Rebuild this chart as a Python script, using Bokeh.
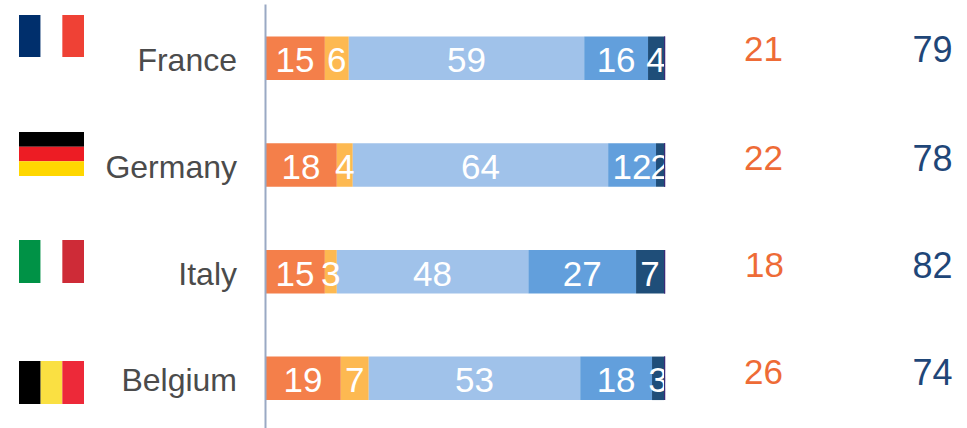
from bokeh.plotting import figure
from bokeh.models import Range1d
from bokeh.core.properties import value
from bokeh.embed import file_html
from bokeh.resources import INLINE

countries = ["France", "Germany", "Italy", "Belgium"]
very_bad = [15, 18, 15, 19]
bad = [6, 4, 3, 7]
fair = [59, 64, 48, 53]
good = [16, 12, 27, 18]
very_good = [4, 2, 7, 3]
rest = [0.3, 0.3, 0.3, 0.3]
negative_total = [21, 22, 18, 26]
positive_total = [79, 78, 82, 74]

segment_colors = ["#F47F4A", "#FDB951", "#A0C2EA", "#629FDC", "#1F4E79", "#3A2A78"]
flag_colors = [
    ["#002F6C", "#FFFFFF", "#EF4135"],
    ["#000000", "#ED1C24", "#FFD700"],
    ["#009246", "#FFFFFF", "#CE2B37"],
    ["#000000", "#FAE042", "#ED2939"],
]
flag_horizontal = [False, True, False, False]

W, H = 967, 428
ORIGIN, PX_PER_UNIT = 264.5, 3.99
ROW0, ROW_STEP = 57.8, 106.67
LABEL_NUDGE = 2 / ROW_STEP


def xv(px):
    return (px - ORIGIN) / PX_PER_UNIT


def yv(px):
    return (px - ROW0) / ROW_STEP


p = figure(width=W, height=H, output_backend="svg", toolbar_location=None,
           x_range=Range1d(xv(0), xv(W)), y_range=Range1d(yv(H), yv(0)),
           min_border=0, outline_line_color=None, background_fill_color="white",
           border_fill_color="white")
p.grid.visible = False
p.xaxis.visible = False

ya = p.yaxis[0]
ya.fixed_location = 0
ya.bounds = (yv(4), yv(428))
ya.ticker = [i + LABEL_NUDGE for i in range(len(countries))]
ya.major_label_overrides = {i + LABEL_NUDGE: c for i, c in enumerate(countries)}
ya.axis_line_color = "#9AA9C4"
ya.axis_line_width = 2
ya.major_tick_line_color = None
ya.minor_tick_line_color = None
ya.major_label_standoff = 22
ya.major_label_text_font = "Liberation Sans"
ya.major_label_text_font_size = "32px"
ya.major_label_text_color = "#4B4B4B"

series = [very_bad, bad, fair, good, very_good, rest]
ys = list(range(len(countries)))
lefts = [0.0] * len(countries)
BAR_H = 43.5 / ROW_STEP
label_x, label_y, label_t = [], [], []
for vals, color in zip(series, segment_colors):
    rights = [l + v for l, v in zip(lefts, vals)]
    p.hbar(y=ys, left=lefts, right=rights, height=BAR_H, fill_color=color, line_color=None)
    if vals is not rest:
        label_x += [(l + r) / 2 for l, r in zip(lefts, rights)]
        label_y += ys
        label_t += [str(v) for v in vals]
    lefts = rights

p.text(x=label_x, y=label_y, text=label_t, text_color="white",
       text_font=value("Liberation Sans"), text_font_size="35px",
       text_align="center", text_baseline="middle", y_offset=2)

# labels are clipped at the end of the bar
p.hbar(y=ys, left=[max(lefts) + 0.05] * 4, right=[max(lefts) + 4] * 4, height=BAR_H,
       fill_color="white", line_color=None)
# the thin last segment sits above the clipped label ends
p.hbar(y=ys, left=[l - v for l, v in zip(lefts, rest)], right=lefts, height=BAR_H,
       fill_color=segment_colors[-1], line_color=None)

number_rows = [48, 157, 264, 371]
number_y = [yv(r) for r in number_rows]
p.text(x=[xv(763), xv(763), xv(764), xv(763)], y=number_y,
       text=[str(v) for v in negative_total], text_color="#EE6B36",
       text_font=value("Liberation Sans"), text_font_size="35px",
       text_align="center", text_baseline="middle")
p.text(x=[xv(932)] * 4, y=number_y, text=[str(v) for v in positive_total], text_color="#1F4678",
       text_font=value("Liberation Sans"), text_font_size="36px",
       text_align="center", text_baseline="middle")

flag_boxes = [(14.5, 56.5), (131.5, 175.5), (239.5, 282.5), (360.5, 403.5)]
FLAG_L, FLAG_R = 18.5, 83.5
for (top, bottom), colors, horizontal in zip(flag_boxes, flag_colors, flag_horizontal):
    for i, c in enumerate(colors):
        if horizontal:
            h = (bottom - top) / 3
            box = (FLAG_L, FLAG_R, top + i * h, top + (i + 1) * h)
        else:
            w = (FLAG_R - FLAG_L) / 3
            box = (FLAG_L + i * w, FLAG_L + (i + 1) * w, top, bottom)
        p.quad(left=xv(box[0]), right=xv(box[1]), top=yv(box[2]), bottom=yv(box[3]),
               fill_color=c, line_color=None)

open("out.html", "w").write(file_html(p, INLINE))
